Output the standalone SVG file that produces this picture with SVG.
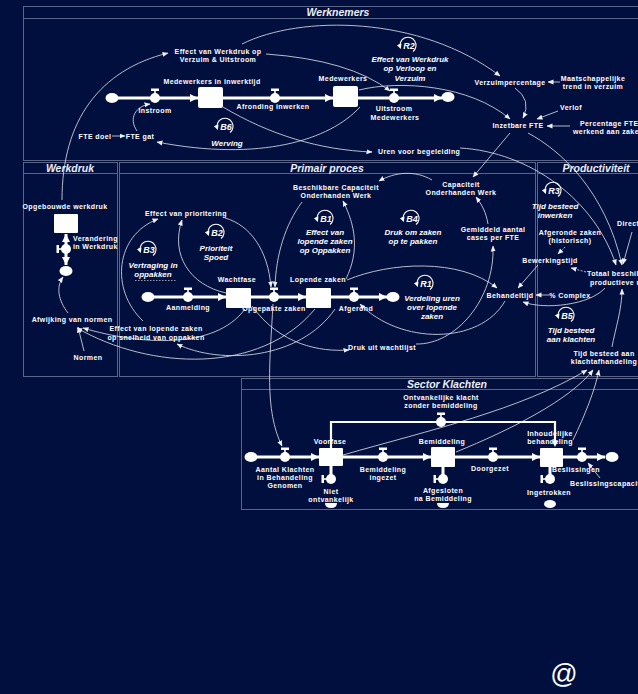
<svg xmlns="http://www.w3.org/2000/svg" width="638" height="694" viewBox="0 0 638 694">
<style>
text{font-family:"Liberation Sans",Arial,sans-serif;fill:#fff;font-weight:bold;text-anchor:middle}
.t{font-size:7px;letter-spacing:0.4px}
.s{text-anchor:start}
.i{font-size:8px;font-style:italic}
.h{font-size:10.5px;font-style:italic;fill:#eceef5}
.ln{font-size:9px;font-style:italic}
.p{fill:none;stroke:#5a6388;stroke-width:1}
.c{fill:none;stroke:#e4e6ee;stroke-width:0.8;marker-end:url(#a)}
.d{stroke-dasharray:2 1.5}
.pp{fill:none;stroke:#fff;stroke-width:3}
.pa{marker-end:url(#pa)}
.st{fill:#fff}
</style>
<defs>
<marker id="a" markerUnits="userSpaceOnUse" markerWidth="6" markerHeight="6" refX="5.5" refY="3" orient="auto"><path d="M0,0.5 L6,3 L0,5.5 z" fill="#eef0f6"/></marker>
<marker id="pa" markerUnits="userSpaceOnUse" markerWidth="8" markerHeight="8" refX="8" refY="4" orient="auto"><path d="M0,0 L8,4 L0,8 z" fill="#fff"/></marker>
<marker id="la" markerUnits="userSpaceOnUse" markerWidth="5" markerHeight="5" refX="4" refY="2.5" orient="auto"><path d="M0,0 L5,2.5 L0,5 z" fill="#fff"/></marker>
<g id="vh"><circle r="5" fill="#fff"/><rect x="-4" y="-9.5" width="8" height="2.5" fill="#fff"/><rect x="-0.8" y="-8" width="1.6" height="4" fill="#fff"/></g>
<g id="vv"><circle r="5" fill="#fff"/><rect x="-9.5" y="-4" width="2.5" height="8" fill="#fff"/><rect x="-8" y="-0.8" width="4" height="1.6" fill="#fff"/></g>
<ellipse id="cl" rx="6.5" ry="5" fill="#fff"/>
<path id="bw" d="M-6,0 L6,0 Q6,5 0,5 Q-6,5 -6,0 z" fill="#fff"/>
<path id="lp" d="M5,6.5 A8,8 0 1 0 -7.5,3" fill="none" stroke="#fff" stroke-width="1.1" marker-end="url(#la)"/>
</defs>
<rect width="638" height="694" fill="#010f3e"/>

<g id="panels">
<rect class="p" x="23.5" y="6.5" width="630" height="154"/>
<line class="p" x1="23.5" y1="18.5" x2="638" y2="18.5"/>
<text class="h" x="338" y="16">Werknemers</text>
<rect class="p" x="23.5" y="162.5" width="94" height="214"/>
<line class="p" x1="23.5" y1="173.5" x2="117.5" y2="173.5"/>
<text class="h" x="70" y="172">Werkdruk</text>
<rect class="p" x="119.5" y="162.5" width="416" height="214"/>
<line class="p" x1="119.5" y1="173.5" x2="535.5" y2="173.5"/>
<text class="h" x="327" y="172">Primair proces</text>
<rect class="p" x="537.5" y="162.5" width="110" height="214"/>
<line class="p" x1="537.5" y1="173.5" x2="638" y2="173.5"/>
<text class="h" x="596" y="172">Productiviteit</text>
<rect class="p" x="241.5" y="378.5" width="410" height="131"/>
<line class="p" x1="241.5" y1="389.5" x2="638" y2="389.5"/>
<text class="h" x="447" y="387.5">Sector Klachten</text>
</g>

<g id="connectors">
<path class="c" d="M62,200 C62,120 100,70 168,53"/>
<path class="c" d="M242,44 C300,15 420,15 500,76"/>
<path class="c" d="M266,54 Q350,60 390,91"/>
<path class="c" d="M359,90 C400,80 470,85 510,119"/>
<path class="c" d="M515,88 Q532,100 523,118"/>
<path class="c" d="M560,82 L548,82"/>
<path class="c" d="M558,111 L537,119"/>
<path class="c" d="M570,126 L547,126"/>
<path class="c" d="M223,107 C270,135 320,150 372,152"/>
<path class="c" d="M360,107 C330,140 260,162 157,142"/>
<path class="c" d="M137,131 C128,118 136,106 150,104"/>
<path class="c" d="M112,136 L125,136"/>
<path class="c" d="M460,148 C530,152 595,200 616,265"/>
<path class="c" d="M528,133 C560,150 605,190 622,265"/>
<path class="c" d="M632,232 L623,264"/>
<path class="c" d="M68,313 C58,300 56,287 63,277"/>
<path class="c" d="M84,351 L78,327"/>
<path class="c" d="M226,293 C190,285 170,255 182,220"/>
<path class="c" d="M143,321 C110,290 115,235 158,219"/>
<path class="c" d="M225,218 C250,225 268,250 271,287"/>
<path class="c" d="M302,202 C285,225 276,255 275,287"/>
<path class="c" d="M346,279 C360,250 355,225 343,201"/>
<path class="c" d="M347,280 C390,262 460,258 497,288"/>
<path class="c" d="M432,180 C415,170 395,172 379,181"/>
<path class="c" d="M488,224 C486,212 482,205 476,197"/>
<path class="c" d="M510,133 L473,177"/>
<path class="c" d="M416,344 C455,345 495,300 493,246"/>
<path class="c" d="M505,301 C480,345 400,345 360,304"/>
<path class="c" d="M252,306 C280,345 320,352 349,350"/>
<path class="c" d="M245,309 C215,350 140,345 83,328"/>
<path class="c" d="M315,309 C260,375 150,370 77,328"/>
<path class="c" d="M335,309 C300,360 220,365 177,344"/>
<path class="c" d="M273,304 C270,360 264,410 282,446"/>
<path class="c" d="M538,265 L518,288"/>
<path class="c" d="M549,295 L536,295"/>
<path class="c" d="M605,288 C590,305 545,310 523,302"/>
<path class="c d" d="M565,247 L558,254"/>
<path class="c d" d="M586,272 L571,268"/>
<path class="c" d="M612,347 C615,330 622,310 622,289"/>
<path class="c" d="M343,455 C430,430 520,410 587,370"/>
<path class="c" d="M456,452 C510,430 570,400 593,370"/>
<path class="c" d="M573,440 C585,415 595,390 599,370"/>
<path class="c" d="M600,478 L588,463"/>
</g>

<g id="flow-werknemers">
<use href="#cl" x="112" y="98"/>
<line class="pp pa" x1="118" y1="98" x2="198" y2="98"/>
<line class="pp pa" x1="223" y1="98" x2="333" y2="98"/>
<line class="pp pa" x1="358" y1="98" x2="442" y2="98"/>
<use href="#cl" x="448" y="97"/>
</g>
<g id="instroom"><use href="#vh" x="155" y="98"/><text class="t" x="155" y="113">Instroom</text></g>
<g id="inwerktijd"><rect class="st" x="198" y="87" width="25" height="21" rx="2"/><text class="t" x="212" y="84">Medewerkers in inwerktijd</text></g>
<g id="afronding"><use href="#vh" x="275" y="98"/><text class="t" x="273" y="108.5">Afronding inwerken</text></g>
<g id="medewerkers"><rect class="st" x="333" y="86" width="25" height="21" rx="2"/><text class="t" x="343" y="81">Medewerkers</text></g>
<g id="uitstroom"><use href="#vh" x="394" y="98"/><text class="t" x="394" y="111">Uitstroom</text><text class="t" x="395" y="119.5">Medewerkers</text></g>
<g id="b6"><use href="#lp" x="225" y="126"/><text class="ln" x="226" y="129.5">B6</text><text class="i" x="227" y="145.5">Werving</text></g>
<g id="r2"><use href="#lp" x="408" y="45"/><text class="ln" x="409" y="48.5">R2</text><text class="i" x="410" y="62">Effect van Werkdruk</text><text class="i" x="410" y="71">op Verloop en</text><text class="i" x="410" y="80.5">Verzuim</text></g>
<g id="effect-werkdruk"><text class="t" x="218" y="54">Effect van Werkdruk op</text><text class="t" x="218" y="62">Verzuim &amp; Uitstroom</text></g>
<g id="fte-doel"><text class="t" x="95" y="138.5">FTE doel</text></g>
<g id="fte-gat"><text class="t" x="140" y="138.5">FTE gat</text></g>
<g id="verzuimpercentage"><text class="t" x="510" y="84.5">Verzuimpercentage</text></g>
<g id="trend"><text class="t" x="593" y="81">Maatschappelijke</text><text class="t" x="593" y="89">trend in verzuim</text></g>
<g id="verlof"><text class="t" x="571" y="110">Verlof</text></g>
<g id="inzetbare"><text class="t" x="518" y="128">Inzetbare FTE</text></g>
<g id="percentage"><text class="t s" x="580" y="126">Percentage FTE</text><text class="t s" x="573" y="134">werkend aan zaken</text></g>
<g id="uren"><text class="t s" x="378" y="154">Uren voor begeleiding</text></g>

<g id="werkdruk-stock"><text class="t" x="65" y="209">Opgebouwde werkdruk</text><rect class="st" x="54" y="214" width="24" height="19" rx="1"/></g>
<g id="verandering">
<line class="pp pa" x1="66" y1="246" x2="66" y2="234"/>
<line class="pp pa" x1="66" y1="252" x2="66" y2="265"/>
<use href="#vv" x="66" y="249"/>
<use href="#cl" x="66" y="271"/>
<text class="t s" x="73" y="241">Verandering</text><text class="t s" x="73" y="249">in Werkdruk</text></g>
<g id="afwijking"><text class="t" x="72" y="321.5">Afwijking van normen</text></g>
<g id="normen"><text class="t" x="88" y="359.5">Normen</text></g>

<g id="flow-primair">
<use href="#cl" x="148" y="297"/>
<line class="pp pa" x1="154" y1="297" x2="226" y2="297"/>
<line class="pp pa" x1="251" y1="297" x2="306" y2="297"/>
<line class="pp pa" x1="331" y1="297" x2="387" y2="297"/>
<use href="#cl" x="393" y="297"/>
</g>
<g id="effect-prioritering"><text class="t" x="186" y="215.5">Effect van prioritering</text></g>
<g id="b2"><use href="#lp" x="216" y="232"/><text class="ln" x="217" y="235.5">B2</text><text class="i" x="216" y="251">Prioriteit</text><text class="i" x="216" y="260">Spoed</text></g>
<g id="b3"><use href="#lp" x="148" y="249"/><text class="ln" x="149" y="252.5">B3</text><text class="i" x="153" y="268">Vertraging in</text><text class="i" x="153" y="277">oppakken</text><line x1="135" y1="280.5" x2="176" y2="280.5" stroke="#fff" stroke-width="0.6" stroke-dasharray="1.5 1.5"/></g>
<g id="aanmelding"><use href="#vh" x="188" y="297"/><text class="t" x="188" y="310">Aanmelding</text></g>
<g id="wachtfase"><rect class="st" x="226" y="288" width="25" height="20" rx="1"/><text class="t" x="237" y="282">Wachtfase</text></g>
<g id="opgepakt"><use href="#vh" x="274" y="297"/><text class="t" x="274" y="310.5">Opgepakte zaken</text></g>
<g id="lopende"><rect class="st" x="306" y="288" width="25" height="20" rx="1"/><text class="t" x="318" y="282">Lopende zaken</text></g>
<g id="afgerond"><use href="#vh" x="354" y="297"/><text class="t" x="356" y="310.5">Afgerond</text></g>
<g id="b1"><use href="#lp" x="325" y="218"/><text class="ln" x="326" y="221.5">B1</text><text class="i" x="325" y="235">Effect van</text><text class="i" x="325" y="244">lopende zaken</text><text class="i" x="325" y="253">op Oppakken</text></g>
<g id="beschikbare"><text class="t" x="336" y="189.5">Beschikbare Capaciteit</text><text class="t" x="336" y="197.5">Onderhanden Werk</text></g>
<g id="b4"><use href="#lp" x="411" y="218"/><text class="ln" x="412" y="221.5">B4</text><text class="i" x="413" y="235">Druk om zaken</text><text class="i" x="413" y="244">op te pakken</text></g>
<g id="capaciteit"><text class="t" x="461" y="186.5">Capaciteit</text><text class="t" x="461" y="194.5">Onderhanden Werk</text></g>
<g id="gemiddeld"><text class="t" x="493" y="231.5">Gemiddeld aantal</text><text class="t" x="493" y="239.5">cases per FTE</text></g>
<g id="r1"><use href="#lp" x="425" y="283"/><text class="ln" x="426" y="286.5">R1</text><text class="i" x="432" y="301">Verdeling uren</text><text class="i" x="432" y="310">over lopende</text><text class="i" x="432" y="319">zaken</text></g>
<g id="behandeltijd"><text class="t" x="510" y="297.5">Behandeltijd</text></g>
<g id="complex"><text class="t" x="570" y="297.5">% Complex</text></g>
<g id="druk"><text class="t" x="382" y="349.5">Druk uit wachtlijst</text></g>
<g id="effect-lopende"><text class="t" x="156" y="330.5">Effect van lopende zaken</text><text class="t" x="156" y="339.5">op snelheid van oppakken</text></g>

<g id="r3"><use href="#lp" x="553" y="190"/><text class="ln" x="554" y="193.5">R3</text><text class="i" x="555" y="208.5">Tijd besteed</text><text class="i" x="555" y="217.5">inwerken</text></g>
<g id="direct"><text class="t s" x="617" y="226">Direct</text></g>
<g id="afgeronde"><text class="t" x="570" y="234.5">Afgeronde zaken</text><text class="t" x="570" y="242.5">(historisch)</text></g>
<g id="bewerkingstijd"><text class="t" x="550" y="262.5">Bewerkingstijd</text></g>
<g id="totaal"><text class="t s" x="587" y="275.5">Totaal beschikbare</text><text class="t s" x="590" y="285">productieve uren</text></g>
<g id="b5"><use href="#lp" x="566" y="315"/><text class="ln" x="567" y="318.5">B5</text><text class="i" x="571" y="332.5">Tijd besteed</text><text class="i" x="571" y="341.5">aan klachten</text></g>
<g id="tijd-klacht"><text class="t" x="604" y="355.5">Tijd besteed aan</text><text class="t" x="604" y="363.5">klachtafhandeling</text></g>

<g id="flow-klachten">
<use href="#cl" x="251" y="457"/>
<line class="pp pa" x1="257" y1="457" x2="319" y2="457"/>
<line class="pp pa" x1="343" y1="457" x2="431" y2="457"/>
<line class="pp pa" x1="455" y1="457" x2="540" y2="457"/>
<line class="pp pa" x1="563" y1="457" x2="605" y2="457"/>
<use href="#cl" x="612" y="457"/>
<polyline fill="none" stroke="#fff" stroke-width="2.2" points="331,448 331,422 555,422 555,442"/>
<path d="M552,441 L558,441 L555,447 z" fill="#fff"/>
<line class="pp" x1="331" y1="466" x2="331" y2="478"/>
<line class="pp" x1="443" y1="467" x2="443" y2="478"/>
<line class="pp" x1="550" y1="467" x2="550" y2="478"/>
</g>
<g id="ontvankelijk"><use href="#vh" x="441" y="422"/><text class="t" x="441" y="399.5">Ontvankelijke klacht</text><text class="t" x="441" y="407.5">zonder bemiddeling</text></g>
<g id="aantal"><use href="#vh" x="285" y="457"/><text class="t" x="285" y="471.5">Aantal Klachten</text><text class="t" x="285" y="479.5">in Behandeling</text><text class="t" x="285" y="487.5">Genomen</text></g>
<g id="voorfase"><rect class="st" x="319" y="448" width="24" height="18" rx="1"/><text class="t" x="330" y="443.5">Voorfase</text></g>
<g id="niet"><use href="#vv" x="331" y="479"/><text class="t" x="331" y="494">Niet</text><text class="t" x="331" y="501.5">ontvankelijk</text><use href="#bw" x="331" y="503"/></g>
<g id="ingezet"><use href="#vh" x="383" y="457"/><text class="t" x="383" y="471.5">Bemiddeling</text><text class="t" x="383" y="479.5">ingezet</text></g>
<g id="bemiddeling"><rect class="st" x="431" y="447" width="24" height="20" rx="1"/><text class="t" x="442" y="443.5">Bemiddeling</text></g>
<g id="afgesloten"><use href="#vv" x="443" y="479"/><text class="t" x="443" y="493">Afgesloten</text><text class="t" x="443" y="501">na Bemiddeling</text><use href="#bw" x="443" y="503"/></g>
<g id="doorgezet"><use href="#vh" x="493" y="457"/><text class="t" x="490" y="471">Doorgezet</text></g>
<g id="inhoudelijk"><rect class="st" x="540" y="448" width="23" height="19" rx="1"/><text class="t" x="550" y="435.5">Inhoudelijke</text><text class="t" x="550" y="443.5">behandeling</text></g>
<g id="beslissingen"><use href="#vh" x="582" y="457"/><text class="t" x="576" y="471.5">Beslissingen</text></g>
<g id="capaciteit-besl"><text class="t s" x="570" y="485.5">Beslissingscapaciteit</text></g>
<g id="ingetrokken"><use href="#vv" x="550" y="479"/><text class="t" x="549" y="494.5">Ingetrokken</text><ellipse cx="550" cy="504" rx="6" ry="4" fill="#fff"/></g>

<text x="564" y="683" style="font-size:27px;font-weight:normal">@</text>
</svg>
